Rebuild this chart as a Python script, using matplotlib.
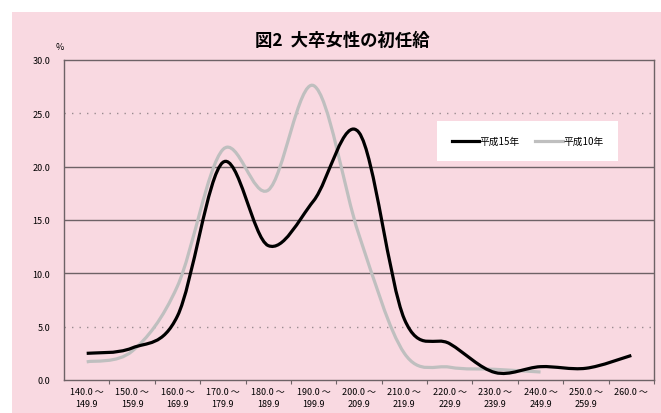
import numpy as np
import matplotlib
matplotlib.use("Agg")
import matplotlib.pyplot as plt
from matplotlib.path import Path
from matplotlib.patches import PathPatch, Rectangle
from matplotlib.lines import Line2D

plt.rcParams['font.family'] = ['Noto Sans CJK JP', 'DejaVu Sans']

# data (%)
categories = ["140.0 ～\n149.9", "150.0 ～\n159.9", "160.0 ～\n169.9", "170.0 ～\n179.9",
              "180.0 ～\n189.9", "190.0 ～\n199.9", "200.0 ～\n209.9", "210.0 ～\n219.9",
              "220.0 ～\n229.9", "230.0 ～\n239.9", "240.0 ～\n249.9", "250.0 ～\n259.9",
              "260.0 ～"]
h15 = [2.5, 3.0, 6.0, 20.4, 12.6, 16.8, 23.2, 5.7, 3.4, 0.7, 1.25, 1.1, 2.3]
h10 = [1.7, 2.7, 8.8, 21.6, 17.8, 27.6, 13.6, 2.5, 1.2, 1.0, 0.75]
yticks = [0, 5, 10, 15, 20, 25, 30]

pink = '#f9d9e1'
gridc = '#6e6266'


def smooth_path(ys):
    # excel-like smoothed line: cubic bezier through every point
    xs = np.arange(len(ys), dtype=float)
    ys = np.asarray(ys, dtype=float)
    pts = np.column_stack([xs, ys])
    verts = [pts[0]]
    codes = [Path.MOVETO]
    n = len(pts)
    for i in range(n - 1):
        p0 = pts[i - 1] if i > 0 else pts[i]
        p1 = pts[i]
        p2 = pts[i + 1]
        p3 = pts[i + 2] if i + 2 < n else pts[i + 1]
        c1 = p1 + (p2 - p0) / 6.0
        c2 = p2 - (p3 - p1) / 6.0
        verts += [c1, c2, p2]
        codes += [Path.CURVE4] * 3
    return Path(verts, codes)


fig = plt.figure(figsize=[6.61, 4.14], dpi=100)
fig.patches.append(Rectangle((12/661, 0), 1, 1 - 13/414, transform=fig.transFigure,
                             facecolor=pink, edgecolor='none', zorder=-10))

ax = fig.add_axes([64/661, 33/414, 590/661, 320/414])
ax.set_facecolor(pink)

for v in [10, 15, 20]:
    ax.axhline(v, color=gridc, lw=1.0, zorder=1)
for v in [5, 25]:
    ax.axhline(v, color='#9a8c90', lw=1.0, linestyle=(0, (1, 4.4)), zorder=1)

ax.add_patch(PathPatch(smooth_path(h10), facecolor='none', edgecolor='#bfbfbf',
                       lw=2.3, capstyle='butt', zorder=3))
ax.add_patch(PathPatch(smooth_path(h15), facecolor='none', edgecolor='black',
                       lw=2.3, capstyle='butt', zorder=4))

ax.set_xlim(-0.5, len(categories) - 0.5)
ax.set_ylim(0, 30)

ax.set_yticks(yticks)
ax.set_yticklabels(["%.1f" % v for v in yticks])
ax.tick_params(axis='y', length=0, pad=10, labelsize=6.5)

ax.set_xticks(np.arange(len(categories)) + 0.5, minor=False)
ax.set_xticklabels([])
ax.set_xticks(np.arange(len(categories)), minor=True)
ax.set_xticklabels(categories, minor=True, fontsize=6.5, linespacing=1.5)
ax.tick_params(axis='x', which='major', length=3, color=gridc, direction='out')
ax.tick_params(axis='x', which='minor', length=0, pad=5)

for s in ax.spines.values():
    s.set_color(gridc)
    s.set_linewidth(1.0)

handles = [Line2D([], [], color='black', lw=2.3),
           Line2D([], [], color='#bfbfbf', lw=2.3)]
leg = ax.legend(handles, ['平成15年', '平成10年'], loc='center',
                bbox_to_anchor=(0.786, 0.747), ncol=2, frameon=True, fancybox=False,
                fontsize=7, handlelength=2.8, handletextpad=0.05, columnspacing=1.6,
                borderpad=1.55)
leg.get_frame().set_facecolor('white')
leg.get_frame().set_edgecolor('none')
leg.get_frame().set_alpha(1)

fig.text(342/661, 1 - 41/414, '図2  大卒女性の初任給', ha='center', va='center',
         fontsize=12.5, fontweight='bold')
fig.text(60/661, 1 - 47/414, '%', ha='center', va='center', fontsize=6.5)

fig.savefig('out.png', dpi=100)
